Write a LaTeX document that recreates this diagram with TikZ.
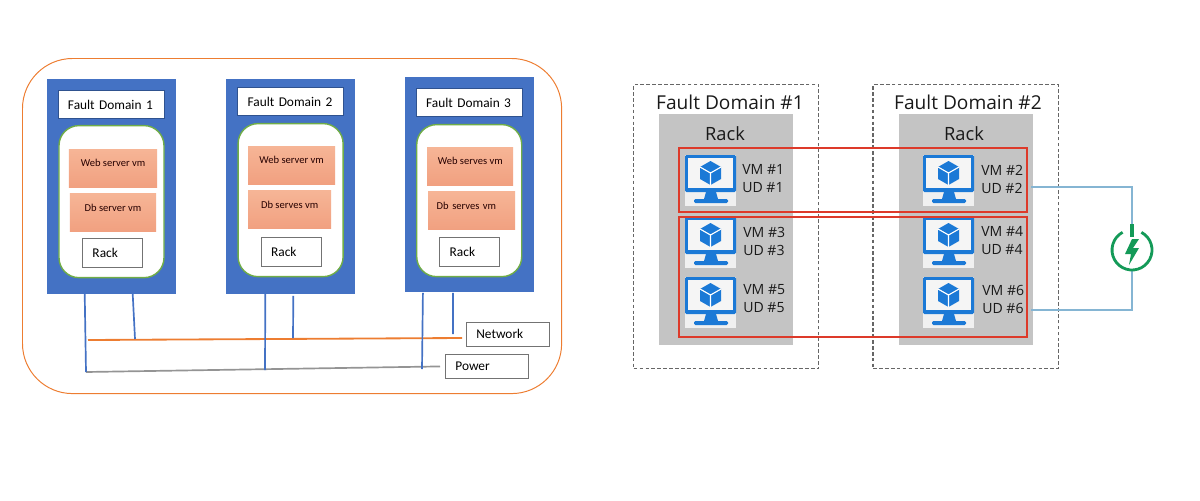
\documentclass[tikz,border=0pt]{standalone}
\usepackage{fontspec}
\setmainfont{Carlito}
\newfontfamily\segoelike{Open Sans}
\usepackage{xcolor}
\usetikzlibrary{arrows.meta, positioning}
\definecolor{domainblue}{HTML}{4472C4}
\definecolor{domainedge}{HTML}{2F528F}
\definecolor{leafgreen}{HTML}{70AD47}
\definecolor{busorange}{HTML}{ED7D31}
\definecolor{azure}{HTML}{1B79D6}
\definecolor{wire}{HTML}{85B5D3}
\definecolor{powergreen}{HTML}{149A58}
\definecolor{vmtop}{HTML}{F6B596}
\definecolor{vmbottom}{HTML}{F1A080}
\definecolor{udred}{HTML}{DD3A2A}
\tikzstyle{outerbox}  = [rectangle, draw=busorange, line width=0.7pt, rounded corners=1.25cm,
                          minimum width=13.475cm, minimum height=8.375cm, anchor=north west]
\tikzstyle{fdbox}     = [rectangle, fill=domainblue, draw=domainblue, inner sep=0pt,
                          minimum width=3.2cm, minimum height=5.35cm]
\tikzstyle{titlebox}  = [rectangle, fill=white, draw=domainedge, line width=0.5pt, align=left, text width=2.15cm,
                          inner xsep=0.25cm, inner ysep=0pt, minimum height=0.7cm, font=\fontsize{9.5}{11}\selectfont]
\tikzstyle{holder}    = [rectangle, fill=white, draw=leafgreen, line width=1pt, rounded corners=0.5cm,
                          inner sep=0pt, minimum width=2.625cm, minimum height=3.8cm]
\tikzstyle{vmbox}     = [rectangle, top color=vmtop, bottom color=vmbottom,
                          draw=none, inner sep=0pt, minimum height=0.95cm, text depth=0.25cm,
                          text=black!85!red, font=\fontsize{7.5}{9}\selectfont]
\tikzstyle{tagbox}    = [rectangle, fill=white, draw=black!55, line width=0.5pt, align=left, text width=1cm,
                          inner xsep=0.25cm, inner ysep=0pt, minimum height=0.725cm, font=\fontsize{9.5}{11}\selectfont]
\tikzstyle{tap}       = [draw=domainblue, line width=1.2pt]
\tikzstyle{fdframe}   = [rectangle, draw=black!60, line width=1pt, dash pattern=on 2.6pt off 1.6pt, inner sep=0pt,
                          minimum width=4.625cm, minimum height=7.1cm]
\tikzstyle{rackbox}   = [rectangle, fill=black!23, inner sep=0pt, minimum width=3.35cm, minimum height=5.775cm]
\tikzstyle{udgroup}   = [rectangle, draw=udred, line width=1.5pt, inner sep=0pt,
                          minimum width=8.7cm, anchor=north west]
\tikzstyle{heading}   = [font=\segoelike\fontsize{13.6}{15}\selectfont, text=black!90, inner sep=0pt]
\tikzstyle{rackname}  = [font=\segoelike\fontsize{13}{15}\selectfont, text=black!90, inner sep=0pt]
\tikzstyle{vmlabel}   = [font=\segoelike\fontsize{10}{12.8}\selectfont, text=black!90, align=left, anchor=west, inner sep=0pt]
\tikzstyle{link}      = [draw=wire, line width=0.8pt]
\tikzset{
  vmicon/.pic={
    \fill [black!6] (0,0) rectangle (51,51);
    \fill [azure, rounded corners=1pt] (0,0) rectangle (51,37);
    \fill [black!4] (3,3) rectangle (48,33);
    \fill [azure] (21,37) -- (31,37) -- (33,44) -- (19,44) -- cycle;
    \fill [azure, rounded corners=1pt] (9,44) rectangle (43,48);
    \fill [azure] (25.5,6) -- (36,12) -- (36,24) -- (25.5,30) -- (15,24) -- (15,12) -- cycle;
    \draw [white, line width=0.8pt] (15,12) -- (25.5,18) -- (36,12) (25.5,18) -- (25.5,30);
  }
}

\begin{document}
\begin{tikzpicture}[x=0.025cm, y=-0.025cm]
  \useasboundingbox (0,0) rectangle (1200,500);

  % left drawing: three domains on two buses
  \node (outer) [outerbox] at (22,58) {};

  \node (fd1) [fdbox] at (111,186.5) {};
  \node (title1) [titlebox, below=0.275cm of fd1.north] {Fault Domain 1};
  \node (holder1) [holder, below=0.15cm of title1, xshift=0.0125cm] {};
  \node (web1) [vmbox, minimum width=2.2cm, below=0.6cm of holder1.north, xshift=0.0375cm] {Web server vm};
  \node (db1) [vmbox, minimum width=2.15cm, below=0.15cm of web1] {Db server vm};
  \node (rack1) [tagbox, below=0.15cm of db1, xshift=-0.0125cm] {Rack};

  \node (fd2) [fdbox, right=1.275cm of fd1] {};
  \node (title2) [titlebox, below=0.2cm of fd2.north] {Fault Domain 2};
  \node (holder2) [holder, below=0.175cm of title2, minimum height=3.825cm] {};
  \node (web2) [vmbox, minimum width=2.175cm, below=0.575cm of holder2.north, xshift=0.025cm] {Web server vm};
  \node (db2) [vmbox, minimum width=2.075cm, below=0.15cm of web2, xshift=-0.05cm] {Db serves vm};
  \node (rack2) [tagbox, below=0.2cm of db2, xshift=0.0375cm] {Rack};

  \node (fd3) [fdbox, right=1.25cm of fd2, yshift=0.05cm] {};
  \node (title3) [titlebox, below=0.275cm of fd3.north] {Fault Domain 3};
  \node (holder3) [holder, below=0.175cm of title3] {};
  \node (web3) [vmbox, minimum width=2.15cm, below=0.575cm of holder3.north, xshift=0.025cm] {Web serves vm};
  \node (db3) [vmbox, minimum width=2.175cm, below=0.15cm of web3, xshift=0.0375cm, align=left, text width=1.75cm] {Db serves vm};
  \node (rack3) [tagbox, below=0.175cm of db3, xshift=-0.05cm] {Rack};

  \node (network) [tagbox, text width=1.575cm, minimum height=0.6cm, anchor=north west] at (466,322) {Network};
  \node (power) [tagbox, text width=1.575cm, minimum height=0.6cm, anchor=north west] at (445,354) {Power};

  \coordinate (netstart) at (88,340);
  \coordinate (netend) at (462,338);
  \coordinate (powerstart) at (86,372);
  \draw [busorange, line width=1.3pt] (netstart) -- (netend);
  \draw [black!42, line width=1.2pt, shorten >=0.125cm] (powerstart) -- (power.west);

  \coordinate (net1) at (135,339);
  \coordinate (net2) at (293,338);
  \coordinate (net3) at (453,334);
  \coordinate (pow2) at (265,370);
  \coordinate (pow3) at (422,369);
  \draw [tap] (fd1.south west) ++(38,0) -- (powerstart);
  \draw [tap] (fd1.south west) ++(86,0) -- (net1);
  \draw [tap] (fd2.south west) ++(39,0) -- (pow2);
  \draw [tap] (fd2.south west) ++(67,2) -- (net2);
  \draw [tap] (fd3.south west) ++(18,1) -- (pow3);
  \draw [tap] (fd3.south west) ++(48,1) -- (net3);

  % right drawing: two racks split into update domains
  \node (frame1) [fdframe, anchor=north west] at (633,84) {};
  \node (frame2) [fdframe, right=1.325cm of frame1] {};
  \node (racks1) [rackbox, below=0.75cm of frame1.north] {};
  \node (racks2) [rackbox, below=0.75cm of frame2.north] {};
  \node (head1) [heading] at (730,102) {Fault Domain \#1};
  \node (head2) [heading] at (968,102) {Fault Domain \#2};
  \node (rackname1) [rackname] at (725,134) {Rack};
  \node (rackname2) [rackname] at (964,134) {Rack};

  \pic at (685,155) {vmicon};
  \pic at (923,155) {vmicon};
  \pic at (685,217) {vmicon};
  \pic at (923,217) {vmicon};
  \pic at (685,277) {vmicon};
  \pic at (923,277) {vmicon};

  \node (group1) [udgroup, minimum height=1.6cm] at (678,147) {};
  \node (group2) [udgroup, minimum height=3cm] at (678,216) {};

  \node (vm1) [vmlabel] at (742,179) {VM \#1\\UD \#1};
  \node (vm2) [vmlabel] at (981,179) {VM \#2\\UD \#2};
  \node (vm3) [vmlabel] at (743,241) {VM \#3\\UD \#3};
  \node (vm4) [vmlabel] at (981,241) {VM \#4\\UD \#4};
  \node (vm5) [vmlabel] at (743,299) {VM \#5\\UD \#5};
  \node (vm6) [vmlabel] at (982,299) {VM \#6\\UD \#6};

  % power symbol and its two feeds
  \node (supply) [circle, minimum size=1.05cm, inner sep=0pt] at (1132,250) {};
  \coordinate (feed2) at (1031,187);
  \coordinate (feed6) at (1031,310);
  \draw [link] (feed2) -| (supply.north);
  \draw [link] (feed6) -| (supply.south);
  \draw [powergreen, line width=2pt] (supply.center) ++(-62:20) arc (-62:242:20);
  \draw [powergreen, line width=3pt] (supply.center) ++(0,-26) -- ++(0,13);
  \fill [powergreen] (supply.center) ++(0,-11) -- ++(-7,15) -- ++(6,0) -- ++(-2,11) -- ++(10,-17) -- ++(-6,0) -- ++(6,-9) -- cycle;
\end{tikzpicture}
\end{document}
